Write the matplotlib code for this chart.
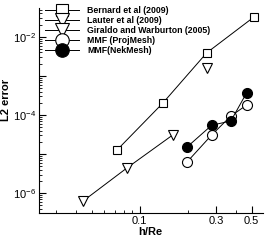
import matplotlib
matplotlib.use("Agg")
import matplotlib.pyplot as plt
from matplotlib.ticker import LogLocator, FixedLocator, NullFormatter, FixedFormatter

plt.rcParams['font.family'] = ['Liberation Sans', 'DejaVu Sans']
plt.rcParams['mathtext.default'] = 'regular'

# data
bernard_x = [0.072, 0.139, 0.262, 0.516]
bernard_y = [1.27e-5, 2.0e-4, 3.9e-3, 3.2e-2]
lauter_x = [0.262]
lauter_y = [1.6e-3]
giraldo_x = [0.044, 0.083, 0.161]
giraldo_y = [6.2e-7, 4.4e-6, 3.1e-5]
proj_x = [0.197, 0.282, 0.371, 0.466]
proj_y = [6.2e-6, 3.1e-5, 9.4e-5, 1.8e-4]
nek_x = [0.197, 0.282, 0.371, 0.466]
nek_y = [1.5e-5, 5.5e-5, 7.0e-5, 3.7e-4]

labels = ["Bernard et al (2009)", "Lauter et al (2009)", "Giraldo and Warburton (2005)",
          "MMF (ProjMesh)", "MMF(NekMesh)"]
xticks = [0.1, 0.3, 0.5]
xticklabels = ["0.1", "0.3", "0.5"]

fig = plt.figure(figsize=(2.73, 2.40), dpi=100)
ax = fig.add_axes([39/273, 1-213/240, (263-39)/273, (213-8)/240])

lw = 0.7
ax.plot(bernard_x, bernard_y, color='black', lw=lw, marker='s', ms=6,
        mfc='white', mec='black', mew=0.8, label=labels[0])
ax.plot(lauter_x, lauter_y, color='black', lw=lw, marker='v', ms=7,
        mfc='white', mec='black', mew=0.8, label=labels[1])
ax.plot(giraldo_x, giraldo_y, color='black', lw=lw, marker='v', ms=7,
        mfc='white', mec='black', mew=0.8, label=labels[2])
ax.plot(proj_x, proj_y, color='black', lw=lw, marker='o', ms=7.2,
        mfc='white', mec='black', mew=0.8, label=labels[3])
ax.plot(nek_x, nek_y, color='black', lw=lw, marker='o', ms=7.2,
        mfc='black', mec='black', mew=0.8, label=labels[4])

ax.set_xscale('log')
ax.set_yscale('log')
ax.set_xlim(0.0234, 0.59)
ax.set_ylim(3.1e-7, 0.055)

ax.xaxis.set_major_locator(FixedLocator(xticks))
ax.xaxis.set_major_formatter(FixedFormatter(xticklabels))
ax.xaxis.set_minor_locator(LogLocator(base=10, subs=range(2, 10)))
ax.xaxis.set_minor_formatter(NullFormatter())

ymaj = [1e-7, 1e-6, 1e-5, 1e-4, 1e-3, 1e-2, 1e-1]
ax.yaxis.set_major_locator(FixedLocator(ymaj))
ax.yaxis.set_major_formatter(FixedFormatter(['', '$10^{-6}$', '', '$10^{-4}$', '', '$10^{-2}$', '']))
ax.yaxis.set_minor_locator(LogLocator(base=10, subs=range(2, 10)))
ax.yaxis.set_minor_formatter(NullFormatter())

ax.tick_params(which='major', direction='in', length=5, width=0.8, labelsize=8, pad=2)
ax.tick_params(which='minor', direction='in', length=2.5, width=0.6)
ax.spines['top'].set_visible(False)
ax.spines['right'].set_visible(False)
for s in ('left', 'bottom'):
    ax.spines[s].set_linewidth(0.8)

ax.set_xlabel('h/Re', fontsize=8, fontweight='bold')
ax.xaxis.set_label_coords((150-39)/224, -(227-213)/205)
ax.set_ylabel('L2 error', fontsize=8, fontweight='bold')
ax.yaxis.set_label_coords(-(39-11)/224, (213-100)/205)

leg = ax.legend(loc='upper left', bbox_to_anchor=(0.005, 1.035), frameon=False,
                handlelength=3.9, handletextpad=0.9,
                labelspacing=0.12, borderaxespad=0.2, markerscale=1.35,
                prop={'weight': 'bold', 'size': 6.3})

fig.savefig('out.png', dpi=100)
